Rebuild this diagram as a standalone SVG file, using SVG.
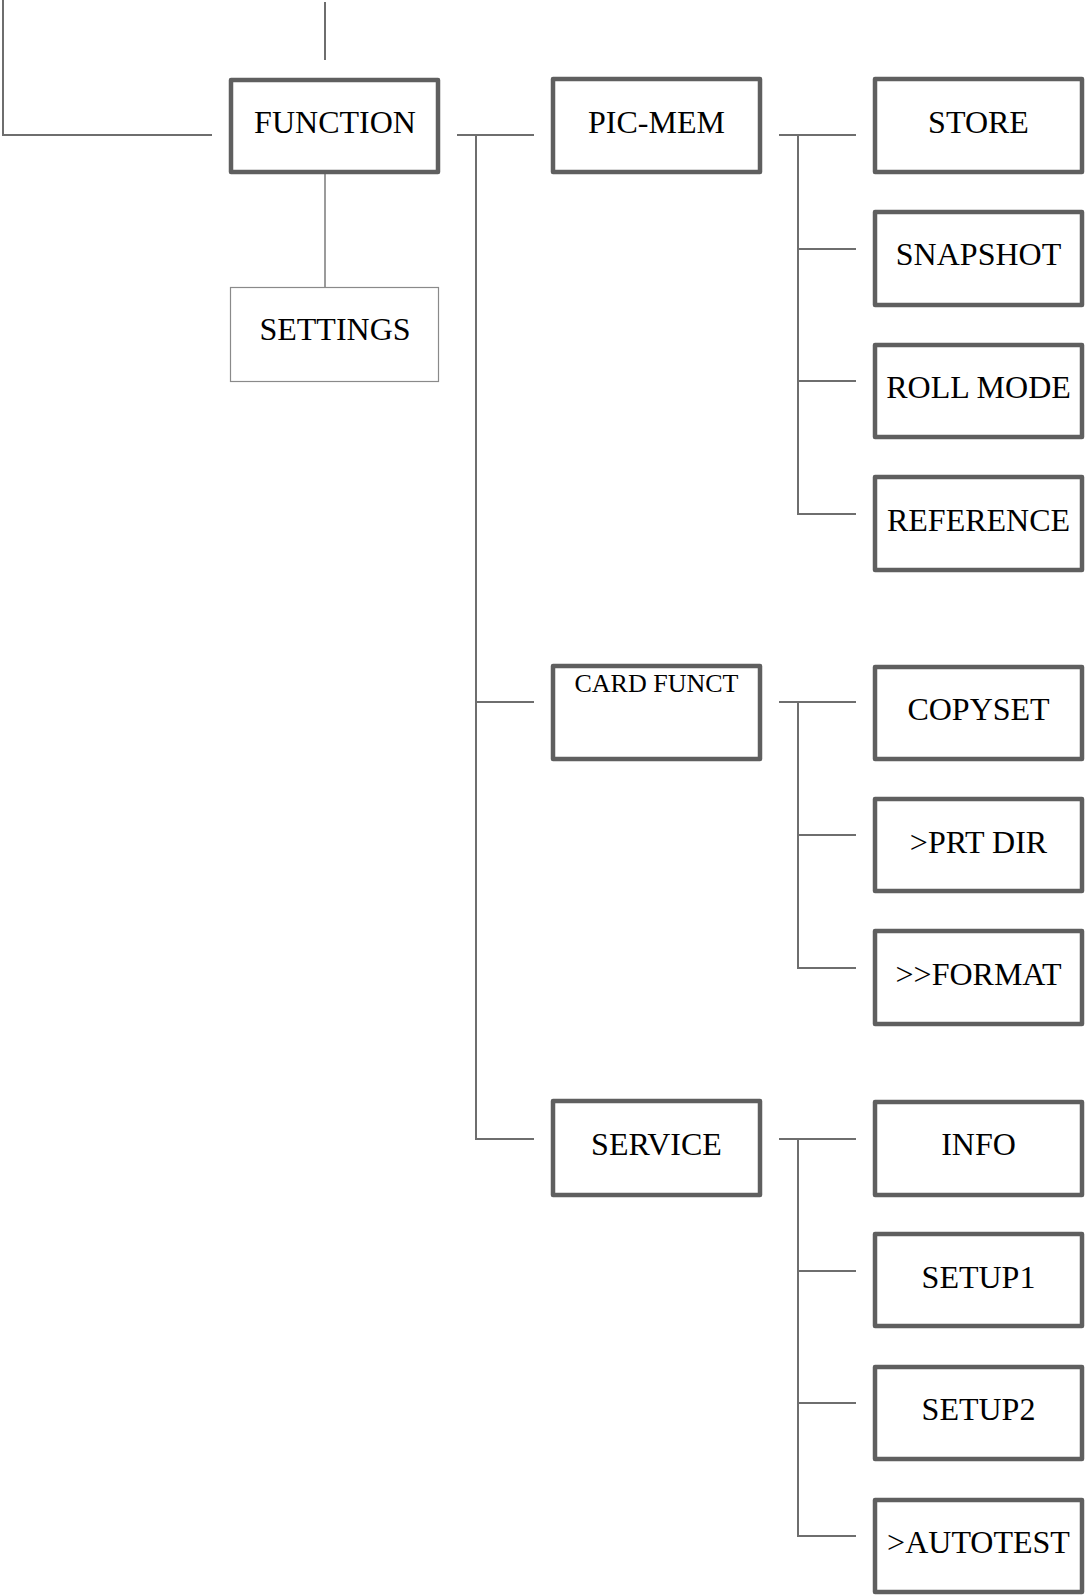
<svg xmlns="http://www.w3.org/2000/svg" width="1085" height="1595" viewBox="0 0 1085 1595">
<style>
.box{fill:#fff;stroke:#5f5f5f;stroke-width:4.5;stroke-linejoin:round}
.thin{fill:#fff;stroke:#8a8a8a;stroke-width:1.2}
.lbl{font-family:"Liberation Serif","Times New Roman",serif;font-size:32px;fill:#000;text-anchor:middle}
.sm{font-size:26px}
.c{stroke:#6e6e6e;stroke-width:2;fill:none}
.c1{stroke:#7a7a7a;stroke-width:1.5;fill:none}
</style>
<rect width="1085" height="1595" fill="#fff"/>
<g id="connectors">
<polyline class="c" points="3,0 3,135 212,135"/>
<line class="c" x1="325" y1="2" x2="325" y2="60"/>
<line class="c1" x1="325" y1="174" x2="325" y2="287"/>
<line class="c" x1="457" y1="135" x2="534" y2="135"/>
<polyline class="c" points="476,135 476,1139 534,1139"/>
<line class="c" x1="476" y1="702" x2="534" y2="702"/>
<line class="c" x1="779" y1="135" x2="856" y2="135"/>
<polyline class="c" points="798,135 798,514 856,514"/>
<line class="c" x1="798" y1="249" x2="856" y2="249"/>
<line class="c" x1="798" y1="381" x2="856" y2="381"/>
<line class="c" x1="779" y1="702" x2="856" y2="702"/>
<polyline class="c" points="798,702 798,968 856,968"/>
<line class="c" x1="798" y1="835" x2="856" y2="835"/>
<line class="c" x1="779" y1="1139" x2="856" y2="1139"/>
<polyline class="c" points="798,1139 798,1536 856,1536"/>
<line class="c" x1="798" y1="1271" x2="856" y2="1271"/>
<line class="c" x1="798" y1="1403" x2="856" y2="1403"/>
</g>
<g id="function"><rect class="box" x="231" y="80" width="207" height="92"/><text class="lbl" x="335" y="133">FUNCTION</text></g>
<g id="settings"><rect class="thin" x="230.5" y="287.5" width="208" height="94"/><text class="lbl" x="335" y="340">SETTINGS</text></g>
<g id="picmem"><rect class="box" x="553" y="79" width="207" height="93"/><text class="lbl" x="656.5" y="133">PIC-MEM</text></g>
<g id="cardfunct"><rect class="box" x="553" y="666" width="207" height="93"/><text class="lbl sm" x="656.5" y="692">CARD FUNCT</text></g>
<g id="service"><rect class="box" x="553" y="1101" width="207" height="94"/><text class="lbl" x="656.5" y="1155">SERVICE</text></g>
<g id="store"><rect class="box" x="875" y="79" width="207" height="93"/><text class="lbl" x="978.5" y="133">STORE</text></g>
<g id="snapshot"><rect class="box" x="875" y="212" width="207" height="93"/><text class="lbl" x="978.5" y="265">SNAPSHOT</text></g>
<g id="rollmode"><rect class="box" x="875" y="345" width="207" height="92"/><text class="lbl" x="978.5" y="398">ROLL MODE</text></g>
<g id="reference"><rect class="box" x="875" y="477" width="207" height="93"/><text class="lbl" x="978.5" y="531">REFERENCE</text></g>
<g id="copyset"><rect class="box" x="875" y="667" width="207" height="92"/><text class="lbl" x="978.5" y="720">COPYSET</text></g>
<g id="prtdir"><rect class="box" x="875" y="799" width="207" height="92"/><text class="lbl" x="978.5" y="853">&gt;PRT DIR</text></g>
<g id="format"><rect class="box" x="875" y="931" width="207" height="93"/><text class="lbl" x="978.5" y="985">&gt;&gt;FORMAT</text></g>
<g id="info"><rect class="box" x="875" y="1102" width="207" height="93"/><text class="lbl" x="978.5" y="1155">INFO</text></g>
<g id="setup1"><rect class="box" x="875" y="1234" width="207" height="92"/><text class="lbl" x="978.5" y="1288">SETUP1</text></g>
<g id="setup2"><rect class="box" x="875" y="1367" width="207" height="92"/><text class="lbl" x="978.5" y="1420">SETUP2</text></g>
<g id="autotest"><rect class="box" x="875" y="1500" width="207" height="92"/><text class="lbl" x="978.5" y="1553">&gt;AUTOTEST</text></g>
</svg>
